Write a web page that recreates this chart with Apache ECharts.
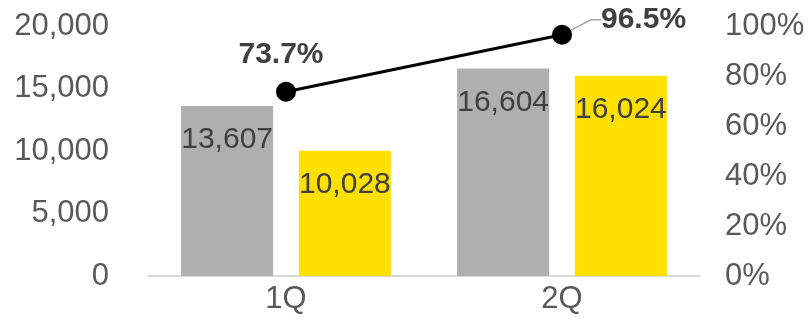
<!DOCTYPE html>
<html>
<head>
<meta charset="utf-8">
<script src="https://cdn.jsdelivr.net/npm/echarts@6/dist/echarts.min.js"></script>
<style>
  html, body { margin: 0; padding: 0; background: #ffffff; }
  #chart { width: 808px; height: 328px; }
</style>
</head>
<body>
<div id="chart"></div>
<script>
// Quarterly figures: two bar series on the left axis, ratio line on the right axis
const categories = ['1Q', '2Q'];
const grayValues = [13607, 16604];
const yellowValues = [10028, 16024];
const ratioValues = [73.7, 96.5];
const leftTicks = { min: 0, max: 20000, interval: 5000 };
const rightTicks = { min: 0, max: 100, interval: 20 };

const FONT = '"Liberation Sans", Arial, sans-serif';
const chart = echarts.init(document.getElementById('chart'), null, { renderer: 'canvas' });

const barLabel = {
  show: true,
  position: 'insideTop',
  distance: 19,
  fontFamily: FONT,
  fontSize: 30,
  color: '#404040',
  formatter: p => p.value.toLocaleString('en-US')
};

// the last ratio point gets its label off to the right with an elbowed leader line
const ratioData = ratioValues.map((v, i) => (i === ratioValues.length - 1
  ? { value: v, label: { position: 'right', distance: 12 }, labelLine: { show: true, length2: 10 } }
  : { value: v, labelLine: { show: false } }));

chart.setOption({
  animation: false,
  backgroundColor: '#ffffff',
  grid: { left: 148, right: 108, top: 26, bottom: 52, outerBoundsMode: 'none', containLabel: false },
  xAxis: {
    type: 'category',
    data: categories,
    axisLine: { lineStyle: { color: '#D9D9D9', width: 2 } },
    axisTick: { show: false },
    axisLabel: { fontFamily: FONT, fontSize: 31, color: '#595959', margin: 8 }
  },
  yAxis: [
    {
      type: 'value',
      min: leftTicks.min, max: leftTicks.max, interval: leftTicks.interval,
      splitLine: { show: false },
      axisLine: { show: false },
      axisTick: { show: false },
      axisLabel: {
        fontFamily: FONT, fontSize: 31, color: '#595959', margin: 39,
        formatter: v => v.toLocaleString('en-US')
      }
    },
    {
      type: 'value',
      min: rightTicks.min, max: rightTicks.max, interval: rightTicks.interval,
      splitLine: { show: false },
      axisLine: { show: false },
      axisTick: { show: false },
      axisLabel: {
        fontFamily: FONT, fontSize: 31, color: '#595959', margin: 25,
        formatter: v => v + '%'
      }
    }
  ],
  series: [
    {
      type: 'bar',
      data: grayValues,
      barWidth: 92,
      barGap: '28%',
      itemStyle: { color: '#AFAFAF' },
      label: barLabel
    },
    {
      type: 'bar',
      data: yellowValues,
      barWidth: 92,
      itemStyle: { color: '#FFE000' },
      label: barLabel
    },
    {
      type: 'line',
      yAxisIndex: 1,
      data: ratioData,
      symbol: 'circle',
      symbolSize: 20,
      lineStyle: { color: '#000000', width: 3 },
      itemStyle: { color: '#000000' },
      z: 5,
      label: {
        show: true,
        position: 'top',
        distance: 12,
        fontFamily: FONT,
        fontSize: 30,
        fontWeight: 'bold',
        color: '#404040',
        formatter: p => p.value.toFixed(1) + '%'
      },
      labelLine: { lineStyle: { color: '#A6A6A6', width: 1.5 } },
      labelLayout: p => (p.dataIndex === 1 ? { dx: 17, dy: -15 } : { dx: -5 })
    }
  ]
});
</script>
</body>
</html>
